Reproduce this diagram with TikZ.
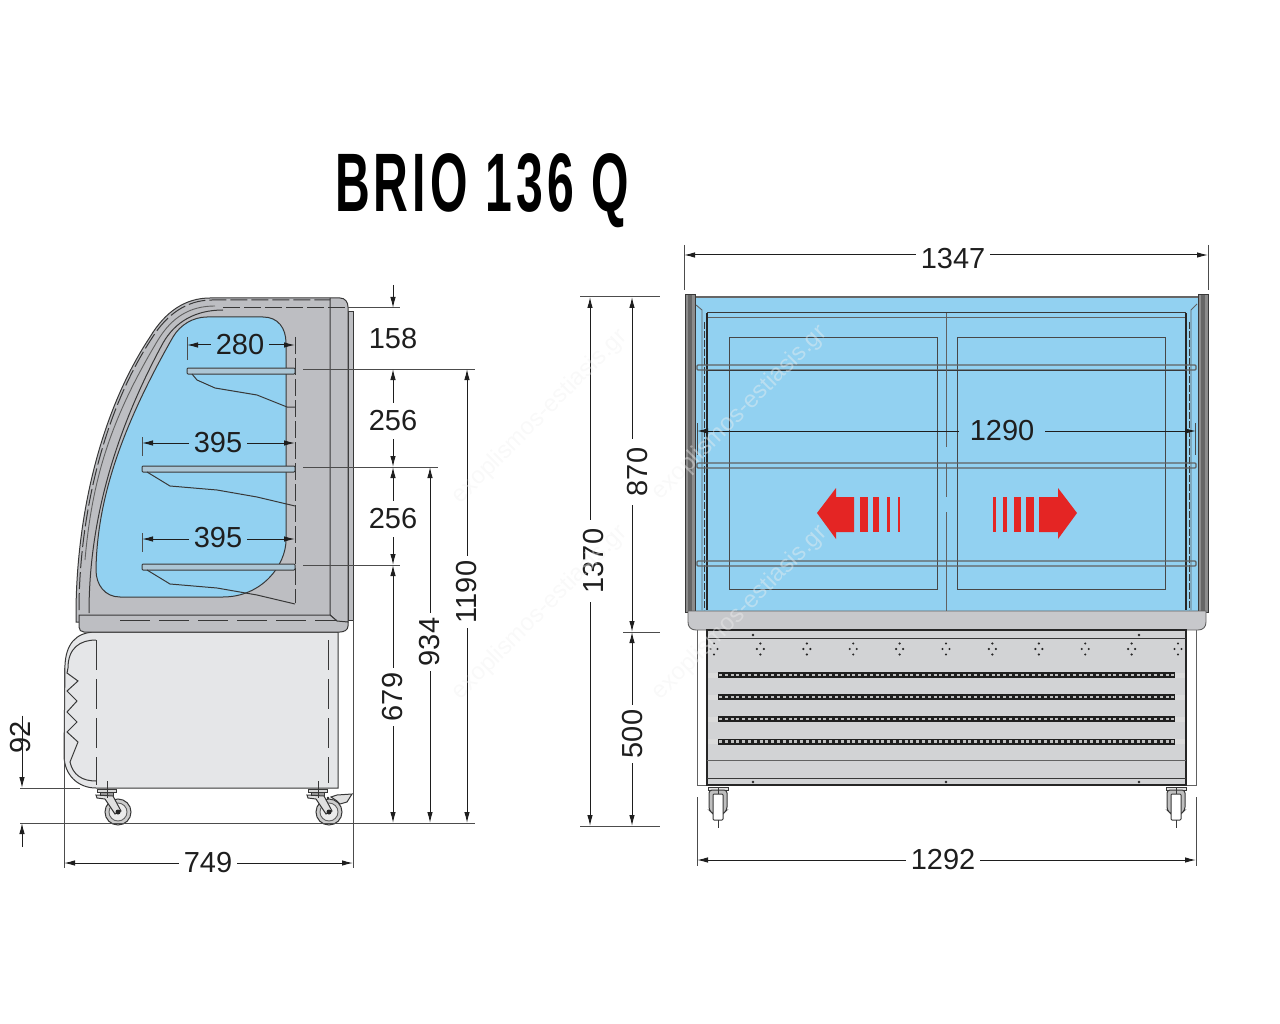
\documentclass[tikz,border=0pt]{standalone}
\usepackage{fontspec}
\setmainfont{Liberation Sans}
\newfontfamily\titlefont[LetterSpace=8.6]{Liberation Sans}
\usetikzlibrary{arrows.meta}
\definecolor{glass}{RGB}{146,209,241}
\definecolor{cabinet}{RGB}{189,190,194}
\definecolor{basefill}{RGB}{229,230,232}
\definecolor{frontfill}{RGB}{210,211,213}
\definecolor{arrowred}{RGB}{228,37,36}
\definecolor{ink}{RGB}{30,30,30}
\begin{document}
\begin{tikzpicture}[x=1pt,y=-1pt]
      \tikzstyle{lbl}=[font=\fontsize{29}{30}\selectfont, text=ink, inner sep=5pt]
      \tikzstyle{lblrot}=[lbl, rotate=90]
      \tikzstyle{lblstack}=[lbl, inner ysep=8pt]
      \tikzstyle{title}=[font=\titlefont\fontsize{83}{85}\bfseries\selectfont, text=black, anchor=base, xscale=0.58, inner sep=0pt]
      \tikzstyle{stamp}=[font=\fontsize{24}{25}\selectfont, text=black!6, opacity=0.42, rotate=45, inner sep=0pt]
      \tikzstyle{connect}=[-{Latex[length=11pt,width=5.5pt]}, line width=1pt, draw=ink]
      \tikzstyle{ext}=[line width=1pt, draw=black!70]
      \tikzstyle{outline}=[line width=1pt, draw=black!78]
      \tikzstyle{hair}=[line width=0.9pt, draw=black!62]
      \tikzstyle{dashline}=[line width=1pt, draw=black!78, dash pattern=on 17pt off 4pt]
      \tikzstyle{longdash}=[line width=0.9pt, draw=black!78, dash pattern=on 30pt off 9pt]
      \tikzstyle{slat}=[line width=6pt, draw=black!88]
      \tikzstyle{slot}=[line width=2.8pt, draw=black!25, dash pattern=on 3pt off 2.8pt]
      \tikzstyle{wing}=[line width=5pt, draw=black!14]

      \useasboundingbox (0,0) rectangle (1280,1024);

      \node[title] (brio) at (482,212) {BRIO 136 Q};

      % side view
      \draw[outline, fill=cabinet] (348,312) -- (353,312) -- (353,620) -- (348,620) -- cycle;
      \draw[outline, fill=cabinet] (76,615) .. controls (76,530) and (95,420) .. (150,337) .. controls (165,312) and (185,298) .. (210,298) -- (340,298) .. controls (345,298) and (348,302) .. (348,307) -- (348,622) -- (76,622) -- cycle;
      \draw[outline, fill=glass] (207,317) -- (263,317) .. controls (278,317) and (286,328) .. (286,343) -- (286,540) .. controls (286,565) and (262,597) .. (223,597) -- (120,597) .. controls (105,597) and (96,585) .. (96,570) .. controls (97,500) and (121,428) .. (173,337) .. controls (180,325) and (193,317) .. (207,317) -- cycle;
      \draw[outline] (89,613) .. controls (89,540) and (105,450) .. (163,343) .. controls (175,322) and (195,310) .. (223,310);
      \draw[hair] (85,560) .. controls (92,480) and (110,420) .. (158,340) .. controls (172,317) and (190,306) .. (215,306);
      \draw[dashline] (79,610) .. controls (79,530) and (98,420) .. (152,338) .. controls (167,314) and (187,300) .. (212,300) -- (330,300);
      \draw[dashline] (223,308) -- (348,308);
      \draw[outline] (330,298) -- (330,615) -- (337,621);
      \draw[dashline] (295,337) -- (295,603);

      \foreach \sx/\sy in {187/368, 142/466, 142/564} {
        \draw[outline, fill=cabinet!60!glass, rounded corners=1pt] (\sx,\sy) rectangle (295,\sy+6);
      }
      \draw[outline] (192,374) -- (197,380) -- (215,388) -- (257,395) -- (287,407) -- (295,407);
      \draw[outline] (147,472) -- (170,486) -- (217,490) -- (257,497) -- (295,506);
      \draw[outline] (147,570) -- (170,584) -- (217,588) -- (257,595) -- (295,604);

      \draw[outline, fill=basefill] (96,632) .. controls (75,632) and (66,645) .. (65,665) -- (64,755) .. controls (64,775) and (78,788) .. (96,788) -- (338,788) -- (338,632) -- cycle;
      \draw[outline] (96,640) .. controls (80,640) and (68,648) .. (68,668) -- (67,673) -- (78,681) -- (67,691) -- (77,701) -- (67,712) -- (77,722) -- (67,732) -- (78,742) -- (70,762) .. controls (73,775) and (82,781) .. (96,781);
      \draw[longdash] (96,640) -- (96,785);
      \draw[longdash] (328,640) -- (328,783);
      \draw[outline, fill=cabinet] (79,615) -- (330,615) -- (337,621) -- (348,622) -- (348,626) .. controls (348,630) and (344,632) .. (340,632) -- (84,632) .. controls (81,632) and (79,630) .. (79,627) -- cycle;
      \draw[longdash] (120,620) -- (337,620);

      \foreach \cx in {118,329} {
        \draw[outline, fill=black!20] (\cx,812) circle (13);
        \draw[hair, fill=black!8] (\cx,812) circle (9);
        \draw[outline, fill=black!15] (\cx-21,789) rectangle (\cx-2,792);
        \draw[outline, fill=black!40] (\cx-18,792) rectangle (\cx-5,796);
        \draw[outline, fill=black!12] (\cx-22,795) -- (\cx-5,796) -- (\cx+3,811) -- (\cx-3,814) -- (\cx-13,799) -- (\cx-21,798) -- cycle;
        \fill[black!85] (\cx,812) circle (2.5);
        \draw[outline] (\cx-11,781) -- (\cx-11,798);
      }
      \draw[outline, fill=black!12] (331,797) -- (337,795) -- (352,794) -- (347,802) -- (340,804) -- (337,801) -- cycle;
      \fill[black!85] (328,798) circle (1.4);

      % front view
      \fill[glass] (696,297) rectangle (1198,611);
      \draw[line width=1.6pt, draw=black!60] (696,297) -- (1198,297);
      \foreach \px in {685,1198} {
        \draw[outline, fill=black!45] (\px,295) rectangle (\px+10,612);
        \fill[black!60] (\px+3,295) rectangle (\px+7,612);
      }
      \draw[outline] (707,313) -- (1186,313);
      \draw[hair] (707,317) -- (1186,317);
      \draw[line width=1.2pt, draw=black!85] (707,313) -- (707,610);
      \draw[line width=1.2pt, draw=black!85] (1186,313) -- (1186,610);
      \draw[hair] (696,305) -- (702,310) -- (702,610);
      \draw[hair] (1197,304) -- (1191,310) -- (1191,610);
      \draw[dashline, dash pattern=on 7pt off 2pt] (704,322) -- (704,610);
      \draw[dashline, dash pattern=on 7pt off 2pt] (1189,322) -- (1189,610);
      \draw[hair, draw=black!72] (729,337) rectangle (937,589);
      \draw[hair, draw=black!72] (957,337) rectangle (1165,589);
      \foreach \sy in {365,463,561} {
        \draw[hair, line width=1.1pt, rounded corners=1pt] (697,\sy) rectangle (1196,\sy+5);
      }
      \draw[hair, draw=black!78] (707,370) -- (1186,370);
      \draw[hair] (946,313) -- (946,447);
      \draw[hair] (946,463) -- (946,497);
      \draw[hair] (946,512) -- (946,645);

      \fill[arrowred] (817,513) -- (836,488) -- (836,497) -- (854,497) -- (854,532) -- (836,532) -- (836,539) -- cycle;
      \foreach \ba/\bb in {860/868, 873/879, 887/890, 898/900} {
        \fill[arrowred] (\ba,497) rectangle (\bb,532);
      }
      \fill[arrowred] (1077,513) -- (1058,488) -- (1058,497) -- (1039,497) -- (1039,532) -- (1058,532) -- (1058,539) -- cycle;
      \foreach \ba/\bb in {1026/1034, 1014/1021, 1003/1007, 993/996} {
        \fill[arrowred] (\ba,497) rectangle (\bb,532);
      }

      \draw[hair, fill=white] (697,625) rectangle (1196,785);
      \draw[hair, fill=cabinet!85!white] (688,611) -- (1206,611) -- (1206,622) .. controls (1206,627) and (1203,630) .. (1198,630) -- (696,630) .. controls (691,630) and (688,627) .. (688,622) -- cycle;
      \draw[line width=1.2pt, draw=black!85, fill=frontfill] (707,630) rectangle (1186,785);
      \draw[outline] (707,638) -- (1186,638);
      \draw[hair] (707,760) -- (1186,760);
      \draw[outline] (707,778) -- (1186,778);
      \foreach \vy in {675,697,719,741.5} {
        \draw[wing] (708,\vy) -- (1185,\vy);
        \draw[slat] (718,\vy) -- (1175,\vy);
        \draw[slot] (719,\vy) -- (1175,\vy);
      }
      \foreach \i in {0,...,10} {
        \pgfmathsetmacro{\dx}{714+46.4*\i}
        \foreach \ox/\oy in {0/-5.5, -3.5/0, 3.5/0, 0/5.5} {
          \fill[black!85] (\dx+\ox,649+\oy) circle (1.2);
        }
      }
      \foreach \dx/\dy in {753/635, 1139/635, 753/782, 946/782, 1139/782} {
        \fill[black!85] (\dx,\dy) circle (1.3);
      }
      \foreach \cx in {718,1176} {
        \draw[outline, fill=black!12] (\cx-10,787) rectangle (\cx+10,790);
        \draw[outline, fill=black!25, rounded corners=3pt] (\cx-9,790) -- (\cx+9,790) -- (\cx+9,810) -- (\cx+5,814) -- (\cx-5,814) -- (\cx-9,810) -- cycle;
        \draw[outline, fill=white, rounded corners=1pt] (\cx-5,794) rectangle (\cx+5,820);
        \draw[outline] (\cx,820) -- (\cx,828);
        \draw[outline] (\cx,787) -- (\cx,794);
      }
      \draw[ext] (697,423) -- (697,455);
      \draw[ext] (1195,423) -- (1195,455);

      % extension lines
      \draw[ext] (64,668) -- (64,868);
      \draw[ext] (353,620) -- (353,868);
      \draw[ext] (20,788) -- (80,788);
      \draw[ext] (20,823) -- (475,823);
      \draw[ext] (348,308) -- (400,308);
      \draw[ext] (303,369) -- (475,369);
      \draw[ext] (303,467) -- (438,467);
      \draw[ext] (303,565) -- (400,565);
      \draw[ext] (187,337) -- (187,360);
      \draw[ext] (142,437) -- (142,456);
      \draw[ext] (142,533) -- (142,552);
      \draw[ext] (684,245) -- (684,290);
      \draw[ext] (1208,245) -- (1208,290);
      \draw[ext] (580,297) -- (660,297);
      \draw[ext] (580,826) -- (660,826);
      \draw[ext] (623,632) -- (660,632);
      \draw[ext] (697,797) -- (697,866);
      \draw[ext] (1196,797) -- (1196,866);

      % dimensions
      \node[lbl] (d749) at (208,863) {749};
      \coordinate (d749-a) at (64,863);
      \coordinate (d749-b) at (353,863);
      \node[lbl] (d280) at (240,345) {280};
      \coordinate (d280-a) at (187,345);
      \coordinate (d280-b) at (295,345);
      \node[lbl] (d395a) at (218,443) {395};
      \coordinate (d395a-a) at (142,443);
      \coordinate (d395a-b) at (295,443);
      \node[lbl] (d395b) at (218,538) {395};
      \coordinate (d395b-a) at (142,539);
      \coordinate (d395b-b) at (295,539);
      \node[lbl] (d1347) at (953,259) {1347};
      \coordinate (d1347-a) at (684,255);
      \coordinate (d1347-b) at (1208,255);
      \node[lbl] (d1292) at (943,860) {1292};
      \coordinate (d1292-a) at (697,860);
      \coordinate (d1292-b) at (1196,860);
      \node[lbl, inner xsep=11pt] (d1290) at (1002,431) {1290};
      \coordinate (d1290-a) at (697,431);
      \coordinate (d1290-b) at (1196,431);

      \foreach \n in {d749,d280,d395a,d395b,d1347,d1292,d1290} {
        \draw[connect] (\n.west |- \n-a) -- (\n-a);
        \draw[connect] (\n.east |- \n-b) -- (\n-b);
      }

      \node[lblrot] (d679) at (393,697) {679};
      \coordinate (d679-a) at (393,565);
      \coordinate (d679-b) at (393,823);
      \node[lblrot] (d934) at (430,642) {934};
      \coordinate (d934-a) at (430,467);
      \coordinate (d934-b) at (430,823);
      \node[lblrot] (d1190) at (467,592) {1190};
      \coordinate (d1190-a) at (467,369);
      \coordinate (d1190-b) at (467,823);
      \node[lblrot, inner xsep=9pt] (d1370) at (594,561) {1370};
      \coordinate (d1370-a) at (590,297);
      \coordinate (d1370-b) at (590,826);
      \node[lblrot, inner xsep=9pt] (d870) at (638,472) {870};
      \coordinate (d870-a) at (632,297);
      \coordinate (d870-b) at (632,632);
      \node[lblrot] (d500) at (633,734) {500};
      \coordinate (d500-a) at (632,632);
      \coordinate (d500-b) at (632,826);

      \foreach \n in {d679,d934,d1190,d1370,d870,d500} {
        \draw[connect] (\n.east -| \n-a) -- (\n-a);
        \draw[connect] (\n.west -| \n-b) -- (\n-b);
      }

      \node[lbl] (d158) at (393,339) {158};
      \coordinate (d158-a) at (393,285);
      \coordinate (d158-b) at (393,308);
      \draw[connect] (d158-a) -- (d158-b);
      \node[lblstack] (d256a) at (393,421) {256};
      \coordinate (d256a-a) at (393,369);
      \coordinate (d256a-b) at (393,467);
      \node[lblstack] (d256b) at (393,519) {256};
      \coordinate (d256b-a) at (393,467);
      \coordinate (d256b-b) at (393,565);
      \foreach \n in {d256a,d256b} {
        \draw[connect] (\n.north -| \n-a) -- (\n-a);
        \draw[connect] (\n.south -| \n-b) -- (\n-b);
      }

      \node[lblrot] (d92) at (21,737) {92};
      \coordinate (d92-a) at (22,788);
      \coordinate (d92-b) at (22,847);
      \coordinate (d92-c) at (22,823);
      \draw[connect] (d92.east -| d92-a) -- (d92-a);
      \draw[connect] (d92-b) -- (d92-c);

      \foreach \wx/\wy/\wn in {540/417/wa, 740/413/wb, 540/613/wc, 740/613/wd} {
        \node[stamp] (\wn) at (\wx,\wy) {exoplismos-estiasis.gr};
      }
\end{tikzpicture}
\end{document}
